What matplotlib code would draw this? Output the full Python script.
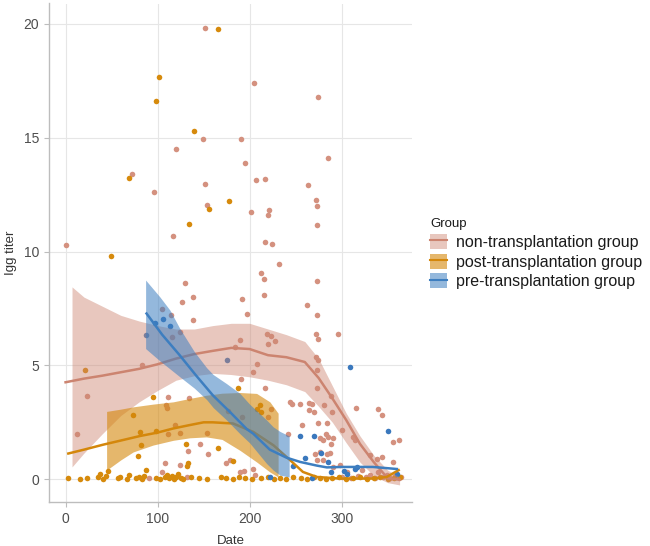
import matplotlib
matplotlib.use("Agg")
import matplotlib.pyplot as plt
from matplotlib.patches import Patch
from matplotlib.lines import Line2D
import numpy as np

plt.rcParams['font.family'] = ['Liberation Sans', 'DejaVu Sans']

groups = ["non-transplantation group", "post-transplantation group", "pre-transplantation group"]
colors = {"non": "#CC8470", "post": "#D4870B", "pre": "#3D7EC0"}
pt_colors = {"non": "#D4917F", "post": "#D68A0C", "pre": "#3A78BD"}

# ---- scatter points (Date, IgG titer) ----
non_x = [0, 12, 22.8, 72.4, 82.9, 96.3, 104.7, 104.7, 107.6, 109.4, 109.8, 111.2, 111.5, 114.5, 115.5,
         116.6, 118.5, 119.6, 124, 124, 124.2, 126.4, 130, 133.3, 133.7, 138, 139, 145.6, 149.6, 151,
         151, 153.2, 154, 154.3, 174.2, 176, 178.6, 183.7, 189.5, 189.5, 190.2, 190.5, 191.3, 191.6,
         193.8, 194.9, 197, 201.4, 204, 204, 205, 205.8, 206.8, 207.6, 212, 215.2, 215.2, 216.3, 216.6,
         217, 218.4, 219.9, 220.2, 220.2, 221, 222.8, 223.5, 224.2, 227.8, 232.2, 242, 243.8, 246,
         254.7, 256.5, 262, 263.7, 264.8, 264.5, 268, 269.9, 271, 271.7, 271.7, 272, 272.8, 272.8,
         273.2, 273.2, 273.5, 273.5, 273.5, 273.9, 273.9, 274.6, 274.6, 276.4, 276.4, 279.3, 280,
         280.8, 283, 283.7, 283.7, 285, 285.4, 287.3, 288.4, 289, 289.1, 290.2, 290.9, 296.3, 298,
         300.3, 312.6, 314.1, 315.5, 330.8, 338, 339.8, 343.5, 343.5, 356, 356, 362.6,
         300, 306, 310, 318, 322, 326, 331, 336, 340, 345, 349, 353, 358, 362, 365, 90.2, 131.5]
non_y = [10.29, 1.98, 3.66, 13.39, 5.02, 12.6, 7.5, 0.32, 0.73, 3.28, 3.11, 3.6, 2.0, 7.21, 6.26,
         10.68, 2.4, 14.5, 2.05, 0.62, 6.45, 7.78, 8.62, 1.23, 3.55, 7.0, 7.99, 1.57, 14.93, 19.82,
         12.95, 2.04, 12.06, 1.1, 0.73, 2.99, 0.84, 5.8, 6.1, 0.32, 14.96, 4.41, 7.94, 2.73,
         0.37, 13.9, 7.24, 11.75, 4.72, 0.47, 17.42, 0.18, 13.14, 5.08, 9.05, 8.78, 8.1, 10.42, 13.2,
         4.03, 6.4, 11.59, 5.96, 2.74, 11.85, 6.29, 3.1, 10.33, 6.08, 9.46, 2.0, 3.4, 3.3,
         3.3, 2.37, 7.65, 12.94, 3.33, 3.03, 3.3, 2.96, 1.13, 12.25, 5.35, 6.37, 4.01, 0.84,
         11.18, 8.72, 12.01, 7.21, 4.79, 6.18, 5.23, 16.8, 2.45, 1.79, 1.2, 0.84, 1.71,
         3.25, 2.0, 2.45, 1.13, 14.1, 1.86, 1.16, 3.65, 1.57, 2.96, 1.79, 0.54, 6.4, 0.62,
         2.18, 1.86, 1.71, 3.13, 1.05, 0.91, 3.1, 0.98, 2.81, 1.64, 0.76, 1.71,
         0.1, 0.3, 0.05, 0.15, 0.4, 0.1, 0.2, 0.05, 0.3, 0.1, 0.2, 0.05, 0.15, 0.05, 0.1, 0.05, 0.1]

post_x = [166, 101.4, 98.2, 139.8, 69.2, 155.4, 177.2, 133.7, 49.6, 20.6, 94.5, 73.2, 211.2, 208.3,
          212.6, 187.6, 80.8, 98.2, 81.5, 130.4, 165.9, 78.6, 132.6, 131.8, 87.3, 46, 37.6, 181.5,
          2.5, 15.5, 22.8, 34.8, 40.9, 43.8, 57.2, 58.7, 66.6, 68.5, 76.4, 80, 82.9, 85.1, 98.2,
          102.5, 108, 110.5, 112.6, 115.2, 117.7, 119.9, 122.4, 125, 127.9, 136.2, 144.6, 153.3,
          168.5, 174, 182, 188, 195, 203, 212, 220, 226, 233, 240, 247, 256, 262, 270, 276, 283,
          290, 297, 305, 312, 320, 328, 335, 342, 350, 357, 363]
post_y = [19.8, 17.68, 16.63, 15.3, 13.22, 11.88, 12.22, 11.2, 9.82, 4.79, 3.63, 2.84, 3.25, 3.1,
          2.96, 4.0, 2.07, 2.11, 1.49, 1.57, 1.38, 1.02, 0.7, 0.6, 0.4, 0.37, 0.23, 0.79,
          0.05, 0.0, 0.05, 0.1, 0.0, 0.15, 0.05, 0.1, 0.0, 0.2, 0.05, 0.1, 0.0, 0.15, 0.05,
          0.0, 0.1, 0.2, 0.05, 0.15, 0.0, 0.1, 0.25, 0.05, 0.0, 0.1, 0.05, 0.0,
          0.1, 0.05, 0.0, 0.1, 0.05, 0.0, 0.05, 0.1, 0.0, 0.05, 0.0, 0.1, 0.05, 0.0, 0.1, 0.05, 0.0,
          0.05, 0.1, 0.0, 0.05, 0.1, 0.0, 0.05, 0.1, 0.0, 0.05, 0.1]

pre_x = [87, 97, 105.8, 113.4, 175.3, 309, 254.7, 270, 277.5, 284.8, 260.5, 246.7, 350.7, 289,
         302.5, 305.4, 314.5, 316.3, 222, 267.4, 359.8]
pre_y = [6.32, 6.85, 7.03, 6.74, 5.23, 4.91, 1.9, 1.89, 1.17, 0.76, 0.95, 0.6, 2.1, 0.32,
         0.35, 0.25, 0.47, 0.54, 0.09, 0.07, 0.25]

# ---- smoothed fits ----
non_fit_x = [0, 20, 40, 60, 80, 100, 120, 140, 160, 180, 200, 220, 240, 260, 275, 290, 305, 320, 335, 350, 363]
non_fit_y = [4.26, 4.42, 4.55, 4.7, 4.85, 5.05, 5.3, 5.5, 5.64, 5.77, 5.72, 5.45, 5.36, 5.15, 4.45, 3.55, 2.6, 1.55, 0.75, 0.05, -0.02]
non_band_x = [7, 20, 40, 60, 80, 100, 120, 140, 160, 180, 200, 220, 240, 260, 275, 290, 305, 320, 335, 350, 363]
non_band_hi = [8.45, 8.0, 7.6, 7.2, 6.95, 6.75, 6.6, 6.6, 6.75, 6.85, 6.85, 6.6, 6.35, 6.05, 5.3, 4.1, 2.9, 1.9, 1.05, 0.4, 0.1]
non_band_lo = [0.54, 1.15, 2.0, 2.8, 3.4, 3.9, 4.35, 4.55, 4.65, 4.6, 4.5, 4.35, 4.15, 3.85, 3.2, 2.5, 1.6, 0.75, 0.15, -0.15, -0.25]

post_fit_x = [3, 20, 41, 60, 81, 100, 117, 135, 150, 160, 182, 204, 226, 244, 258, 273, 298, 334, 349, 362]
post_fit_y = [1.13, 1.3, 1.52, 1.7, 1.9, 2.05, 2.23, 2.38, 2.5, 2.5, 2.45, 2.08, 1.49, 0.84, 0.32, 0.1, 0.03, 0.03, 0.1, 0.4]
post_band_x = [44.6, 60, 73.5, 95, 117, 135, 153, 170, 189.5, 207.6, 222, 231]
post_band_hi = [2.98, 3.08, 3.18, 3.3, 3.4, 3.55, 3.69, 3.78, 3.81, 3.77, 3.4, 2.9]
post_band_lo = [0.4, 0.85, 1.2, 1.5, 1.71, 1.82, 1.86, 1.75, 1.27, 0.76, 0.32, 0.1]

pre_fit_x = [88, 105, 124, 142, 160, 180, 197, 204, 222, 240, 255, 273, 284, 300, 316, 334, 360]
pre_fit_y = [7.28, 6.35, 5.45, 4.55, 3.69, 2.9, 2.2, 2.0, 1.3, 0.95, 0.76, 0.6, 0.52, 0.54, 0.54, 0.54, 0.45]
pre_band_x = [87, 102.5, 113.4, 124.2, 140, 153.3, 160.4, 175, 189.5, 200, 218.5, 225.7, 233, 243]
pre_band_hi = [8.75, 8.01, 7.43, 6.62, 5.6, 4.9, 4.6, 4.2, 3.77, 3.3, 2.6, 2.3, 2.1, 1.9]
pre_band_lo = [5.74, 5.2, 4.85, 4.5, 4.0, 3.5, 3.15, 2.6, 2.0, 1.6, 0.69, 0.4, 0.18, 0.1]

x_ticks = [0, 100, 200, 300]
y_ticks = [0, 5, 10, 15, 20]

fig = plt.figure(figsize=(6.5, 5.46), dpi=100)
ax = fig.add_axes([49 / 650, 1 - 502 / 546, (412 - 49) / 650, (502 - 3.5) / 546])

# points
ax.scatter(non_x, non_y, s=16, color=pt_colors["non"], linewidths=0, zorder=2)
ax.scatter(post_x, post_y, s=16, color=pt_colors["post"], linewidths=0, zorder=2)
ax.scatter(pre_x, pre_y, s=16, color=pt_colors["pre"], linewidths=0, zorder=2)

alphas = {"non": 0.45, "post": 0.6, "pre": 0.55}
for key, bx, lo, hi, fx, fy in [
    ("non", non_band_x, non_band_lo, non_band_hi, non_fit_x, non_fit_y),
    ("post", post_band_x, post_band_lo, post_band_hi, post_fit_x, post_fit_y),
    ("pre", pre_band_x, pre_band_lo, pre_band_hi, pre_fit_x, pre_fit_y),
]:
    ax.fill_between(bx, lo, hi, color=colors[key], alpha=alphas[key], linewidth=0, zorder=3)
    ax.plot(fx, fy, color=colors[key], linewidth=1.8, zorder=3)

ax.set_xlim(-18, 376.5)
ax.set_ylim(-1.0, 20.9)
ax.set_xticks(x_ticks)
ax.set_yticks(y_ticks)
ax.grid(True, color="#E6E6E6", linewidth=0.8, zorder=0)
ax.set_axisbelow(True)
for s in ["top", "right"]:
    ax.spines[s].set_visible(False)
for s in ["left", "bottom"]:
    ax.spines[s].set_color("#BDBDBD")
    ax.spines[s].set_linewidth(1.0)
ax.tick_params(axis="both", colors="#BDBDBD", labelcolor="#4D4D4D", labelsize=10, length=3.5, width=0.8)
ax.set_xlabel("Date", fontsize=9.5, color="#333333", labelpad=7)
ax.set_ylabel("Igg titer", fontsize=9.5, color="#333333", labelpad=5)

handles = []
for key in ["non", "post", "pre"]:
    p = Patch(facecolor=colors[key], alpha=alphas[key], edgecolor="none")
    l = Line2D([], [], color=colors[key], linewidth=1.5)
    handles.append((p, l))

leg = fig.legend(handles, groups, loc="upper left", bbox_to_anchor=(424 / 650, 1 - 212 / 546),
                 frameon=False, fontsize=11.5, title="Group", title_fontsize=9.5,
                 handlelength=1.05, handleheight=1.1, labelspacing=0.22, handletextpad=0.55,
                 borderaxespad=0)
leg._legend_box.align = "left"
for t in leg.get_texts():
    t.set_color("#1A1A1A")
leg.get_title().set_color("#1A1A1A")

fig.savefig("out.png", dpi=100)
